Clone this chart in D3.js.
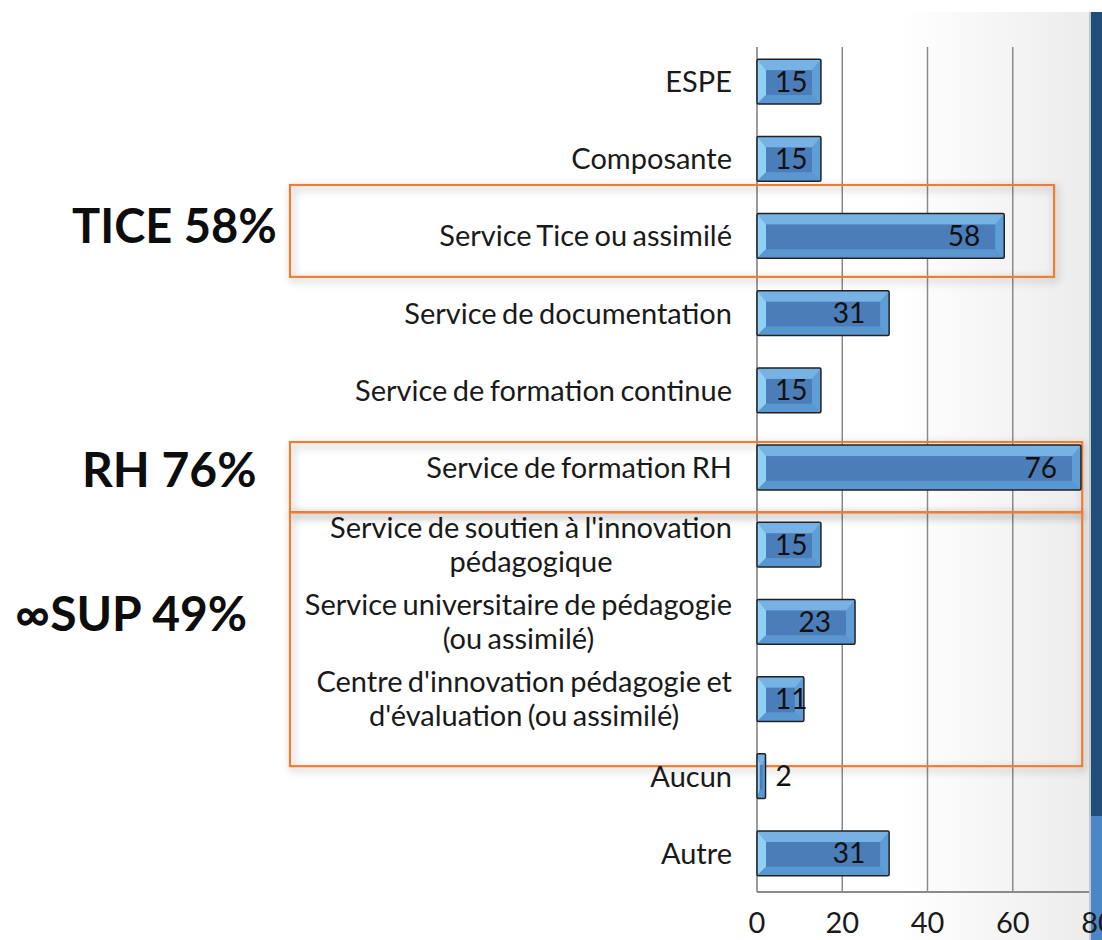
<!DOCTYPE html>
<html>
<head>
<meta charset="utf-8">
<script src="https://cdn.jsdelivr.net/npm/d3@7"></script>
<style>
  html, body { margin: 0; padding: 0; background: #fff; }
  svg { display: block; font-family: Lato, "Noto Sans", sans-serif; }
</style>
</head>
<body>
<svg id="chart" width="1102" height="940"></svg>
<script>
// categories, top to bottom (\n = line break in the label)
const categories = [
  "ESPE",
  "Composante",
  "Service Tice ou assimilé",
  "Service de documentation",
  "Service de formation continue",
  "Service de formation RH",
  "Service de soutien à l'innovation\npédagogique",
  "Service universitaire de pédagogie\n(ou assimilé)",
  "Centre d'innovation pédagogie et\nd'évaluation (ou assimilé)",
  "Aucun",
  "Autre"
];
const values = [15, 15, 58, 31, 15, 76, 15, 23, 11, 2, 31];
const xTicks = [0, 20, 40, 60, 80];

// highlighted groups: label, first and last category, right end of the box (in axis units)
const groupLabels = ["TICE 58%", "RH 76%", "\u221ESUP 49%"];
const groupFirst = [2, 5, 6];
const groupLast = [2, 5, 8];
const groupEnd = [69.7, 76.3, 76.3];
// box margins above / below the bands, in band steps
const groupPadTop = [0.37, 0.04, 0.13];
const groupPadBottom = [0.24, 0.29, 0.58];

const W = 1102, H = 940;
const x0 = 757, x80 = 1098;
const plotTop = 47, plotBottom = 892;

const svg = d3.select("#chart");

// Scales
const x = d3.scaleLinear().domain([0, 80]).range([x0, x80]);
const y = d3.scaleBand().domain(d3.range(categories.length))
  .range([43, plotBottom]).paddingInner(0.42).paddingOuter(0.21);

// background shading on the right
const defs = svg.append("defs");
const bg = defs.append("linearGradient").attr("id", "bg").attr("x1", 0).attr("x2", 1).attr("y1", 0).attr("y2", 0);
bg.append("stop").attr("offset", "0%").attr("stop-color", "#ffffff");
bg.append("stop").attr("offset", "100%").attr("stop-color", "#ececec");
const shadow = defs.append("filter").attr("id", "shadow")
  .attr("x", "-5%").attr("y", "-30%").attr("width", "110%").attr("height", "160%");
shadow.append("feDropShadow").attr("dx", 2).attr("dy", 3).attr("stdDeviation", 4)
  .attr("flood-color", "#000").attr("flood-opacity", 0.35);

svg.append("rect").attr("x", 900).attr("y", 12).attr("width", 191).attr("height", H - 12)
  .attr("fill", "url(#bg)");

// gridlines
svg.append("g").selectAll("line")
  .data(xTicks.slice(1))
  .join("line")
  .attr("x1", d => x(d)).attr("x2", d => x(d))
  .attr("y1", plotTop).attr("y2", plotBottom)
  .attr("stroke", "#8a8a8a").attr("stroke-width", 1.5);

// axes lines
svg.append("line").attr("x1", x0).attr("x2", x0).attr("y1", plotTop).attr("y2", plotBottom)
  .attr("stroke", "#7a7a7a").attr("stroke-width", 1.5);
svg.append("line").attr("x1", x0).attr("x2", 1091).attr("y1", plotBottom).attr("y2", plotBottom)
  .attr("stroke", "#8a8a8a").attr("stroke-width", 2);

// orange highlight boxes
const boxes = svg.append("g");
groupLabels.forEach((lbl, i) => {
  const step = y.step();
  const top = y(groupFirst[i]) - groupPadTop[i] * step;
  const bottom = y(groupLast[i]) + y.bandwidth() + groupPadBottom[i] * step;
  boxes.append("rect")
    .attr("x", 290).attr("y", top)
    .attr("width", x(groupEnd[i]) - 290).attr("height", bottom - top)
    .attr("fill", "none").attr("stroke", "#ed7d31").attr("stroke-width", 2.2)
    .attr("filter", "url(#shadow)");
});

// bars with bevel
const bars = svg.append("g").selectAll("g.bar")
  .data(values)
  .join("g").attr("class", "bar");

bars.each(function(d, i) {
  const g = d3.select(this);
  const bx = x(0), bw = x(d) - x(0), by = y(i), bh = y.bandwidth();
  const inL = Math.min(9, bw / 3), inR = Math.min(9, bw / 3), inT = 11, inB = 9;
  g.append("rect").attr("x", bx).attr("y", by).attr("width", bw).attr("height", bh)
    .attr("fill", "#5f9dd6");
  // top bevel
  g.append("polygon")
    .attr("points", [[bx, by], [bx + bw, by], [bx + bw - inR, by + inT], [bx + inL, by + inT]].join(" "))
    .attr("fill", "#77b2e5");
  // left bevel
  g.append("polygon")
    .attr("points", [[bx, by], [bx + inL, by + inT], [bx + inL, by + bh - inB], [bx, by + bh]].join(" "))
    .attr("fill", "#8fd0f4");
  // bottom bevel
  g.append("polygon")
    .attr("points", [[bx, by + bh], [bx + inL, by + bh - inB], [bx + bw - inR, by + bh - inB], [bx + bw, by + bh]].join(" "))
    .attr("fill", "#5a96d0");
  // inner face
  if (bw > inL + inR) {
    g.append("rect").attr("x", bx + inL).attr("y", by + inT)
      .attr("width", bw - inL - inR).attr("height", bh - inT - inB)
      .attr("fill", "#4b7db8");
  }
  g.append("rect").attr("x", bx).attr("y", by).attr("width", bw).attr("height", bh)
    .attr("fill", "none").attr("stroke", "#222").attr("stroke-width", 1.5).attr("rx", 1.5);
});

// value labels
bars.append("text")
  .attr("font-size", 28)
  .attr("fill", "#111")
  .attr("y", (d, i) => y(i) + y.bandwidth() / 2)
  .attr("dy", "0.36em")
  .text(d => d)
  .each(function(d) {
    const t = d3.select(this);
    const tw = this.getComputedTextLength();
    const end = x(d);
    if (end - x0 < tw + 12) {
      t.attr("x", end + 10).attr("text-anchor", "start");
    } else {
      t.attr("x", Math.max(end - 24, x0 + tw + 18)).attr("text-anchor", "end");
    }
  });

// category labels
const labelRight = x0 - 25;
const lineH = 34;
const catG = svg.append("g");
categories.forEach((c, i) => {
  const lines = c.split("\n");
  const cy = y(i) + y.bandwidth() / 2;
  const t = catG.append("text")
    .attr("font-size", 29).attr("fill", "#1a1a1a")
    .attr("word-spacing", -2);
  if (lines.length === 1) {
    t.attr("x", labelRight).attr("y", cy).attr("dy", "0.36em").attr("text-anchor", "end").text(c);
  } else {
    const spans = lines.map((l, k) => t.append("tspan")
      .attr("y", cy + (k - (lines.length - 1) / 2) * lineH).attr("dy", "0.36em").text(l));
    const wMax = d3.max(spans, s => s.node().getComputedTextLength());
    spans.forEach(s => s.attr("x", labelRight - wMax / 2).attr("text-anchor", "middle"));
  }
});

// right blue stripe (slide edge)
svg.append("rect").attr("x", 1089).attr("y", 12).attr("width", 2).attr("height", H - 12).attr("fill", "#c8c8c8");
svg.append("rect").attr("x", 1091).attr("y", 12).attr("width", 11).attr("height", 804).attr("fill", "#1f4e7d");
svg.append("rect").attr("x", 1091).attr("y", 816).attr("width", 11).attr("height", H - 816).attr("fill", "#4a86c8");

// x tick labels
svg.append("g").selectAll("text")
  .data(xTicks)
  .join("text")
  .attr("x", d => x(d)).attr("y", 933)
  .attr("text-anchor", "middle").attr("font-size", 29).attr("fill", "#1a1a1a")
  .text(d => d);

// big group labels
const groupY = [y(2) + y.bandwidth() / 2 - 10, y(5) + y.bandwidth() / 2 + 2, y(7) + 14];
const groupX = [72, 82, 15];
svg.append("g").selectAll("text")
  .data(groupLabels)
  .join("text")
  .attr("x", (d, i) => groupX[i]).attr("y", (d, i) => groupY[i]).attr("dy", "0.36em")
  .attr("font-size", (d, i) => i === 2 ? 48 : i === 0 ? 47 : 48).attr("font-weight", 700).attr("fill", "#0d0d0d")
  .text(d => d);
</script>
</body>
</html>
